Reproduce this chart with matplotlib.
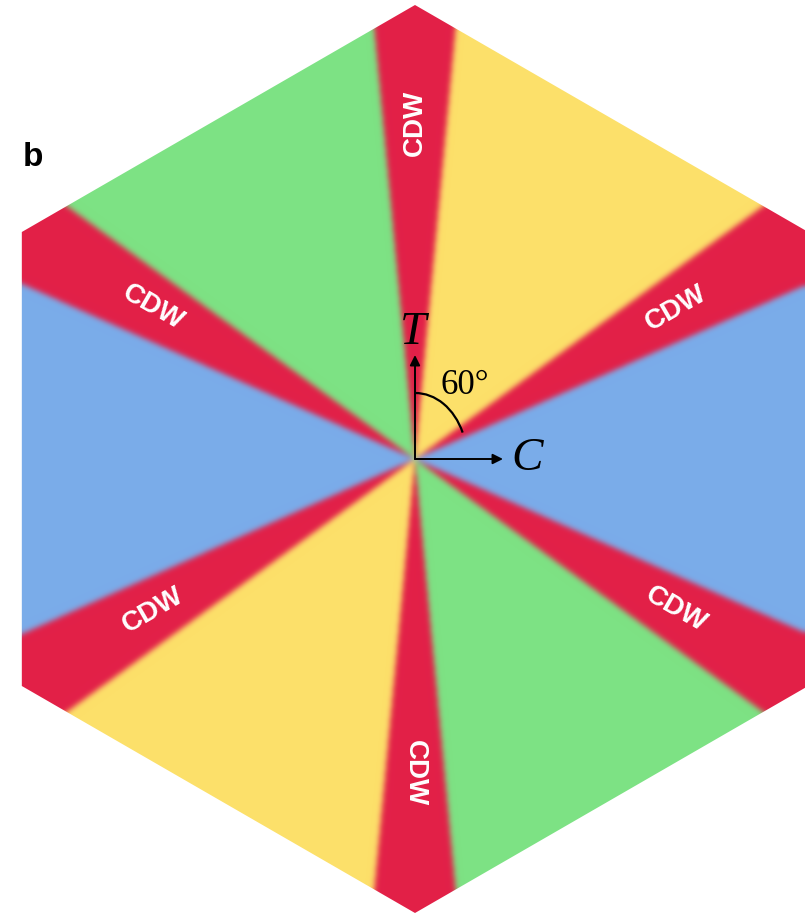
import numpy as np
import matplotlib
matplotlib.use("Agg")
import matplotlib.pyplot as plt
from matplotlib.patches import Polygon, Arc

# ---- data ----
sector_names = ["blue", "red", "yellow", "red", "green", "red",
                "blue", "red", "yellow", "red", "green", "red"]
sector_starts = [-24.0, 24.0, 36.0, 84.6, 95.4, 144.0,
                 156.0, 204.0, 216.0, 264.6, 275.4, 324.0]
sector_ends = [24.0, 36.0, 84.6, 95.4, 144.0, 156.0,
               204.0, 216.0, 264.6, 275.4, 324.0, 336.0]
palette = {"blue": "#7AACEA", "red": "#E22048",
           "yellow": "#FDE06A", "green": "#7DE284"}
cdw_angles = [90, 30, 150, 210, 330, 270]
cdw_rotations = [90, 30, -30, 30, -30, -90]
cdw_label = "CDW"
axis_labels = ["T", "C"]
angle_label = "60°"
panel_label = "b"

# ---- figure ----
W, H = 805, 914
fig = plt.figure(figsize=(W / 100, H / 100), dpi=100)
ax = fig.add_axes([0, 0, 1, 1])
cx, cy = 415, 459  # pixel position of origin
xmin, xmax = -cx, W - cx
ymin, ymax = -(H - cy), cy
ax.set_xlim(xmin, xmax)
ax.set_ylim(ymin, ymax)
ax.set_aspect("equal")
ax.axis("off")

# build sector image
xs = np.arange(xmin, xmax) + 0.5
ys = np.arange(ymin, ymax) + 0.5
X, Y = np.meshgrid(xs, ys)
ang = np.degrees(np.arctan2(Y, X))
ang = np.where(ang < -24.0, ang + 360, ang)
img = np.zeros(X.shape + (3,))
for name, a0, a1 in zip(sector_names, sector_starts, sector_ends):
    m = (ang >= a0) & (ang < a1)
    img[m] = matplotlib.colors.to_rgb(palette[name])

# gaussian blur (separable)
sigma = 2.8
K = int(3 * sigma) + 1
k = np.exp(-0.5 * (np.arange(-K, K + 1) / sigma) ** 2)
k /= k.sum()
def blur(a, axis):
    pad = [(0, 0)] * a.ndim
    pad[axis] = (K, K)
    p = np.pad(a, pad, mode="edge")
    out = np.zeros_like(a)
    n = a.shape[axis]
    for i, w in enumerate(k):
        sl = [slice(None)] * a.ndim
        sl[axis] = slice(i, i + n)
        out += w * p[tuple(sl)]
    return out
img = blur(blur(img, 0), 1)

R = 454
hex_pts = [(R * np.cos(np.radians(90 + 60 * i)), R * np.sin(np.radians(90 + 60 * i)))
           for i in range(6)]
hexagon = Polygon(hex_pts, closed=True, facecolor="none", edgecolor="none")
ax.add_patch(hexagon)
im = ax.imshow(img, origin="lower", extent=(xmin, xmax, ymin, ymax),
               interpolation="bilinear", zorder=1)
im.set_clip_path(hexagon)

# CDW labels
cdw_r = [336, 302, 302, 302, 302, 314]
for a, r, rot in zip(cdw_angles, cdw_r, cdw_rotations):
    t = np.radians(a)
    ax.text(r * np.cos(t), r * np.sin(t), cdw_label, color="white",
            fontsize=20, fontweight="bold", family="Liberation Sans",
            rotation=rot, ha="center", va="center", rotation_mode="anchor", zorder=3)

# axes arrows
for tip in [(0, 104), (88, 0)]:
    ax.annotate("", xy=tip, xytext=(0, 0),
                arrowprops=dict(arrowstyle="-|>", lw=1.4, color="black",
                                mutation_scale=15, shrinkA=0, shrinkB=0), zorder=4)
ax.text(-2, 126, axis_labels[0], fontsize=34, style="italic",
        family="Liberation Serif", ha="center", va="center", zorder=4)
ax.text(112, 0, axis_labels[1], fontsize=34, style="italic",
        family="Liberation Serif", ha="center", va="center", zorder=4)
ax.add_patch(Arc((0, 0), 104, 132, theta1=29, theta2=90, lw=1.6,
                 color="black", zorder=4))
ax.text(50, 73, angle_label, fontsize=25, family="Liberation Serif",
        ha="center", va="center", zorder=4)

ax.text(-382, 301, panel_label, fontsize=24, fontweight="bold",
        family="Liberation Sans", ha="center", va="center")

fig.savefig("out.png", dpi=100)
